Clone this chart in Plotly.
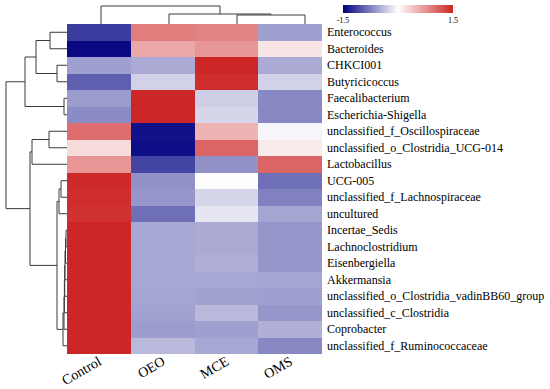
import plotly.graph_objects as go

# ---- data ----
genera = [
    "Enterococcus", "Bacteroides", "CHKCI001", "Butyricicoccus",
    "Faecalibacterium", "Escherichia-Shigella", "unclassified_f_Oscillospiraceae",
    "unclassified_o_Clostridia_UCG-014", "Lactobacillus", "UCG-005",
    "unclassified_f_Lachnospiraceae", "uncultured", "Incertae_Sedis",
    "Lachnoclostridium", "Eisenbergiella", "Akkermansia",
    "unclassified_o_Clostridia_vadinBB60_group", "unclassified_c_Clostridia",
    "Coprobacter", "unclassified_f_Ruminococcaceae",
]
groups = ["Control", "OEO", "MCE", "OMS"]

control = [-1.15, -1.45, -0.56, -0.94, -0.59, -0.68, 1.00, 0.24, 0.73, 1.48,
           1.45, 1.42, 1.50, 1.50, 1.50, 1.50, 1.50, 1.50, 1.50, 1.50]
oeo = [0.90, 0.60, -0.50, -0.27, 1.50, 1.50, -1.40, -1.42, -1.10, -0.65,
       -0.62, -0.85, -0.51, -0.52, -0.52, -0.52, -0.53, -0.55, -0.58, -0.41]
mce = [0.86, 0.72, 1.50, 1.45, -0.29, -0.24, 0.52, 1.07, -0.65, -0.01,
       -0.24, -0.15, -0.50, -0.50, -0.47, -0.52, -0.55, -0.41, -0.56, -0.52]
oms = [-0.56, 0.18, -0.50, -0.27, -0.70, -0.70, -0.06, 0.14, 1.07, -0.85,
       -0.74, -0.53, -0.62, -0.62, -0.62, -0.53, -0.56, -0.62, -0.47, -0.70]

# linkage: (left node, right node, height); leaves are 0..n-1 in display order
row_links = [
    (0, 1, 17), (2, 3, 10), (20, 21, 31), (4, 5, 3), (22, 23, 42),
    (6, 7, 18), (25, 8, 35), (9, 10, 6), (27, 11, 8), (12, 13, 1),
    (29, 14, 1.5), (30, 15, 2), (31, 16, 2.3), (32, 17, 2.6), (33, 18, 3),
    (34, 19, 4), (28, 35, 10), (26, 36, 37), (24, 37, 61),
]
col_links = [(2, 3, 9), (1, 4, 10), (0, 5, 18)]

cb_ticks = [-1.5, 1.5]


def dendro_segments(n, links):
    pos = {i: float(i) for i in range(n)}
    hgt = {i: 0.0 for i in range(n)}
    ps, hs = [], []
    for k, (a, b, h) in enumerate(links):
        node = n + k
        ps += [pos[a], pos[a], pos[b], pos[b], None]
        hs += [hgt[a], h, h, hgt[b], None]
        pos[node] = (pos[a] + pos[b]) / 2
        hgt[node] = h
    return ps, hs


W, H = 550, 389
z = [[control[i], oeo[i], mce[i], oms[i]] for i in range(len(genera))]

fig = go.Figure()
fig.add_trace(go.Heatmap(
    z=z, x=list(range(len(groups))), y=list(range(len(genera))),
    zmin=-1.5, zmax=1.5,
    colorscale=[[0, "#000080"], [0.5, "#ffffff"], [1, "#CD2626"]],
    colorbar=dict(
        orientation="h", x=398 / W, xanchor="center", y=1 - 5 / H, yanchor="top",
        len=110, lenmode="pixels", thickness=8, thicknessmode="pixels",
        outlinewidth=0, xpad=0, ypad=0, tickvals=cb_ticks,
        ticktext=[str(v) for v in cb_ticks], ticks="",
        tickfont=dict(family="Liberation Serif", size=8, color="#000"),
    ),
    xgap=0, ygap=0, hoverinfo="z",
))

rp, rh = dendro_segments(len(genera), row_links)
fig.add_trace(go.Scatter(x=rh, y=rp, mode="lines", xaxis="x2", yaxis="y",
                         line=dict(color="#3a3a3a", width=1), hoverinfo="skip",
                         showlegend=False))
cp, ch = dendro_segments(len(groups), col_links)
fig.add_trace(go.Scatter(x=cp, y=ch, mode="lines", xaxis="x3", yaxis="y3",
                         line=dict(color="#3a3a3a", width=1), hoverinfo="skip",
                         showlegend=False))

fig.update_layout(
    width=W, height=H, autosize=False,
    margin=dict(l=0, r=0, t=0, b=0, pad=0),
    paper_bgcolor="white", plot_bgcolor="white",
    showlegend=False,
    font=dict(family="Liberation Serif", color="#000"),
    xaxis=dict(domain=[67 / W, 322 / W], range=[-0.5, 3.5], automargin=False,
               tickvals=list(range(len(groups))), ticktext=groups,
               tickangle=-30, tickfont=dict(size=14), showgrid=False,
               zeroline=False, showline=False, ticks="", ticklabelstandoff=-4),
    yaxis=dict(domain=[1 - 354 / H, 1 - 24 / H], range=[19.5, -0.5],
               automargin=False,
               side="right", tickvals=list(range(len(genera))), ticktext=genera,
               tickfont=dict(size=12), showgrid=False, zeroline=False,
               showline=False, ticks="", ticklabelstandoff=4),
    xaxis2=dict(domain=[0, 67 / W], range=[67, 0], visible=False, anchor="y",
                automargin=False),
    xaxis3=dict(domain=[67 / W, 339 / W], range=[-0.5, 3.5], visible=False,
                anchor="y3", automargin=False),
    yaxis3=dict(domain=[1 - 24 / H, 1], range=[0, 24], visible=False,
                anchor="x3", automargin=False),
)

fig.write_html(
    "out.html",
    config={"displayModeBar": False},
    post_script="document.body.style.margin='0px';document.body.style.overflow='hidden';",
)
